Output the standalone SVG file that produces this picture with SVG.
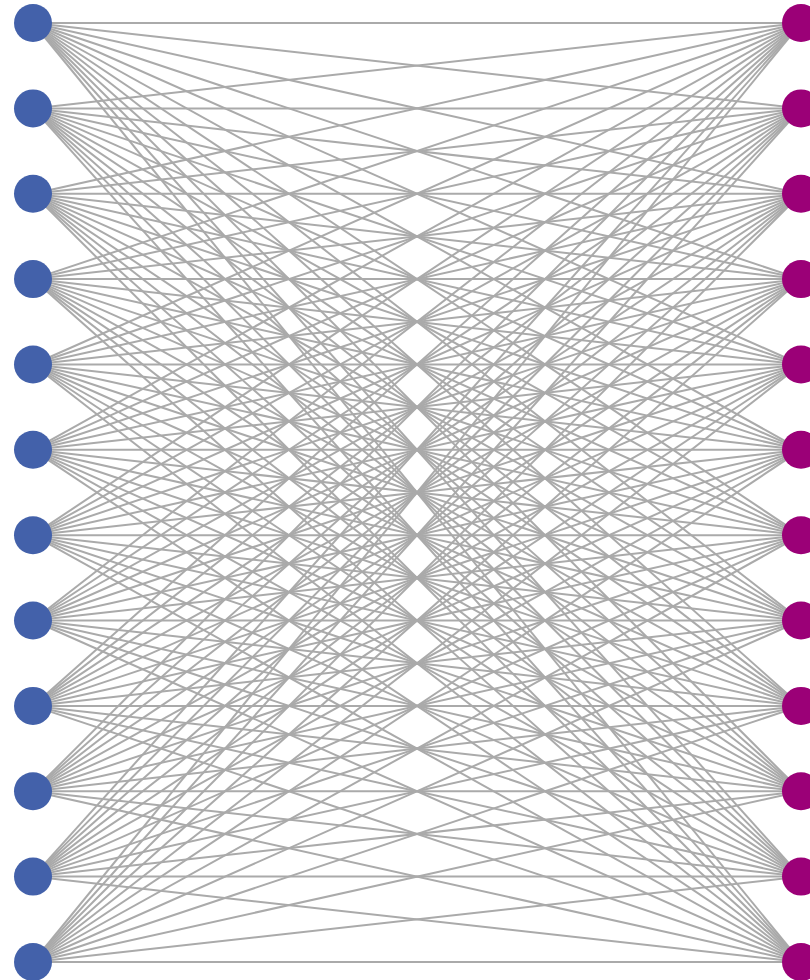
<svg xmlns="http://www.w3.org/2000/svg" width="810" height="980" viewBox="0 0 810 980">
<style>
.e line{stroke:#aaaaaa;stroke-width:2;fill:none}
.l{fill:#4361aa}
.r{fill:#9b0077}
</style>
<rect width="810" height="980" fill="#ffffff"/>
<g id="edges" class="e">
<line x1="33" y1="23" x2="801" y2="23"/><line x1="33" y1="23" x2="801" y2="108.4"/><line x1="33" y1="23" x2="801" y2="193.7"/><line x1="33" y1="23" x2="801" y2="279.1"/><line x1="33" y1="23" x2="801" y2="364.5"/><line x1="33" y1="23" x2="801" y2="449.8"/><line x1="33" y1="23" x2="801" y2="535.2"/><line x1="33" y1="23" x2="801" y2="620.5"/><line x1="33" y1="23" x2="801" y2="705.9"/><line x1="33" y1="23" x2="801" y2="791.3"/><line x1="33" y1="23" x2="801" y2="876.6"/><line x1="33" y1="23" x2="801" y2="962"/>
<line x1="33" y1="108.4" x2="801" y2="23"/><line x1="33" y1="108.4" x2="801" y2="108.4"/><line x1="33" y1="108.4" x2="801" y2="193.7"/><line x1="33" y1="108.4" x2="801" y2="279.1"/><line x1="33" y1="108.4" x2="801" y2="364.5"/><line x1="33" y1="108.4" x2="801" y2="449.8"/><line x1="33" y1="108.4" x2="801" y2="535.2"/><line x1="33" y1="108.4" x2="801" y2="620.5"/><line x1="33" y1="108.4" x2="801" y2="705.9"/><line x1="33" y1="108.4" x2="801" y2="791.3"/><line x1="33" y1="108.4" x2="801" y2="876.6"/><line x1="33" y1="108.4" x2="801" y2="962"/>
<line x1="33" y1="193.7" x2="801" y2="23"/><line x1="33" y1="193.7" x2="801" y2="108.4"/><line x1="33" y1="193.7" x2="801" y2="193.7"/><line x1="33" y1="193.7" x2="801" y2="279.1"/><line x1="33" y1="193.7" x2="801" y2="364.5"/><line x1="33" y1="193.7" x2="801" y2="449.8"/><line x1="33" y1="193.7" x2="801" y2="535.2"/><line x1="33" y1="193.7" x2="801" y2="620.5"/><line x1="33" y1="193.7" x2="801" y2="705.9"/><line x1="33" y1="193.7" x2="801" y2="791.3"/><line x1="33" y1="193.7" x2="801" y2="876.6"/><line x1="33" y1="193.7" x2="801" y2="962"/>
<line x1="33" y1="279.1" x2="801" y2="23"/><line x1="33" y1="279.1" x2="801" y2="108.4"/><line x1="33" y1="279.1" x2="801" y2="193.7"/><line x1="33" y1="279.1" x2="801" y2="279.1"/><line x1="33" y1="279.1" x2="801" y2="364.5"/><line x1="33" y1="279.1" x2="801" y2="449.8"/><line x1="33" y1="279.1" x2="801" y2="535.2"/><line x1="33" y1="279.1" x2="801" y2="620.5"/><line x1="33" y1="279.1" x2="801" y2="705.9"/><line x1="33" y1="279.1" x2="801" y2="791.3"/><line x1="33" y1="279.1" x2="801" y2="876.6"/><line x1="33" y1="279.1" x2="801" y2="962"/>
<line x1="33" y1="364.5" x2="801" y2="23"/><line x1="33" y1="364.5" x2="801" y2="108.4"/><line x1="33" y1="364.5" x2="801" y2="193.7"/><line x1="33" y1="364.5" x2="801" y2="279.1"/><line x1="33" y1="364.5" x2="801" y2="364.5"/><line x1="33" y1="364.5" x2="801" y2="449.8"/><line x1="33" y1="364.5" x2="801" y2="535.2"/><line x1="33" y1="364.5" x2="801" y2="620.5"/><line x1="33" y1="364.5" x2="801" y2="705.9"/><line x1="33" y1="364.5" x2="801" y2="791.3"/><line x1="33" y1="364.5" x2="801" y2="876.6"/><line x1="33" y1="364.5" x2="801" y2="962"/>
<line x1="33" y1="449.8" x2="801" y2="23"/><line x1="33" y1="449.8" x2="801" y2="108.4"/><line x1="33" y1="449.8" x2="801" y2="193.7"/><line x1="33" y1="449.8" x2="801" y2="279.1"/><line x1="33" y1="449.8" x2="801" y2="364.5"/><line x1="33" y1="449.8" x2="801" y2="449.8"/><line x1="33" y1="449.8" x2="801" y2="535.2"/><line x1="33" y1="449.8" x2="801" y2="620.5"/><line x1="33" y1="449.8" x2="801" y2="705.9"/><line x1="33" y1="449.8" x2="801" y2="791.3"/><line x1="33" y1="449.8" x2="801" y2="876.6"/><line x1="33" y1="449.8" x2="801" y2="962"/>
<line x1="33" y1="535.2" x2="801" y2="23"/><line x1="33" y1="535.2" x2="801" y2="108.4"/><line x1="33" y1="535.2" x2="801" y2="193.7"/><line x1="33" y1="535.2" x2="801" y2="279.1"/><line x1="33" y1="535.2" x2="801" y2="364.5"/><line x1="33" y1="535.2" x2="801" y2="449.8"/><line x1="33" y1="535.2" x2="801" y2="535.2"/><line x1="33" y1="535.2" x2="801" y2="620.5"/><line x1="33" y1="535.2" x2="801" y2="705.9"/><line x1="33" y1="535.2" x2="801" y2="791.3"/><line x1="33" y1="535.2" x2="801" y2="876.6"/><line x1="33" y1="535.2" x2="801" y2="962"/>
<line x1="33" y1="620.5" x2="801" y2="23"/><line x1="33" y1="620.5" x2="801" y2="108.4"/><line x1="33" y1="620.5" x2="801" y2="193.7"/><line x1="33" y1="620.5" x2="801" y2="279.1"/><line x1="33" y1="620.5" x2="801" y2="364.5"/><line x1="33" y1="620.5" x2="801" y2="449.8"/><line x1="33" y1="620.5" x2="801" y2="535.2"/><line x1="33" y1="620.5" x2="801" y2="620.5"/><line x1="33" y1="620.5" x2="801" y2="705.9"/><line x1="33" y1="620.5" x2="801" y2="791.3"/><line x1="33" y1="620.5" x2="801" y2="876.6"/><line x1="33" y1="620.5" x2="801" y2="962"/>
<line x1="33" y1="705.9" x2="801" y2="23"/><line x1="33" y1="705.9" x2="801" y2="108.4"/><line x1="33" y1="705.9" x2="801" y2="193.7"/><line x1="33" y1="705.9" x2="801" y2="279.1"/><line x1="33" y1="705.9" x2="801" y2="364.5"/><line x1="33" y1="705.9" x2="801" y2="449.8"/><line x1="33" y1="705.9" x2="801" y2="535.2"/><line x1="33" y1="705.9" x2="801" y2="620.5"/><line x1="33" y1="705.9" x2="801" y2="705.9"/><line x1="33" y1="705.9" x2="801" y2="791.3"/><line x1="33" y1="705.9" x2="801" y2="876.6"/><line x1="33" y1="705.9" x2="801" y2="962"/>
<line x1="33" y1="791.3" x2="801" y2="23"/><line x1="33" y1="791.3" x2="801" y2="108.4"/><line x1="33" y1="791.3" x2="801" y2="193.7"/><line x1="33" y1="791.3" x2="801" y2="279.1"/><line x1="33" y1="791.3" x2="801" y2="364.5"/><line x1="33" y1="791.3" x2="801" y2="449.8"/><line x1="33" y1="791.3" x2="801" y2="535.2"/><line x1="33" y1="791.3" x2="801" y2="620.5"/><line x1="33" y1="791.3" x2="801" y2="705.9"/><line x1="33" y1="791.3" x2="801" y2="791.3"/><line x1="33" y1="791.3" x2="801" y2="876.6"/><line x1="33" y1="791.3" x2="801" y2="962"/>
<line x1="33" y1="876.6" x2="801" y2="23"/><line x1="33" y1="876.6" x2="801" y2="108.4"/><line x1="33" y1="876.6" x2="801" y2="193.7"/><line x1="33" y1="876.6" x2="801" y2="279.1"/><line x1="33" y1="876.6" x2="801" y2="364.5"/><line x1="33" y1="876.6" x2="801" y2="449.8"/><line x1="33" y1="876.6" x2="801" y2="535.2"/><line x1="33" y1="876.6" x2="801" y2="620.5"/><line x1="33" y1="876.6" x2="801" y2="705.9"/><line x1="33" y1="876.6" x2="801" y2="791.3"/><line x1="33" y1="876.6" x2="801" y2="876.6"/><line x1="33" y1="876.6" x2="801" y2="962"/>
<line x1="33" y1="962" x2="801" y2="23"/><line x1="33" y1="962" x2="801" y2="108.4"/><line x1="33" y1="962" x2="801" y2="193.7"/><line x1="33" y1="962" x2="801" y2="279.1"/><line x1="33" y1="962" x2="801" y2="364.5"/><line x1="33" y1="962" x2="801" y2="449.8"/><line x1="33" y1="962" x2="801" y2="535.2"/><line x1="33" y1="962" x2="801" y2="620.5"/><line x1="33" y1="962" x2="801" y2="705.9"/><line x1="33" y1="962" x2="801" y2="791.3"/><line x1="33" y1="962" x2="801" y2="876.6"/><line x1="33" y1="962" x2="801" y2="962"/>
</g>
<g id="L1"><circle class="l" cx="33" cy="23" r="19"/></g>
<g id="L2"><circle class="l" cx="33" cy="108.4" r="19"/></g>
<g id="L3"><circle class="l" cx="33" cy="193.7" r="19"/></g>
<g id="L4"><circle class="l" cx="33" cy="279.1" r="19"/></g>
<g id="L5"><circle class="l" cx="33" cy="364.5" r="19"/></g>
<g id="L6"><circle class="l" cx="33" cy="449.8" r="19"/></g>
<g id="L7"><circle class="l" cx="33" cy="535.2" r="19"/></g>
<g id="L8"><circle class="l" cx="33" cy="620.5" r="19"/></g>
<g id="L9"><circle class="l" cx="33" cy="705.9" r="19"/></g>
<g id="L10"><circle class="l" cx="33" cy="791.3" r="19"/></g>
<g id="L11"><circle class="l" cx="33" cy="876.6" r="19"/></g>
<g id="L12"><circle class="l" cx="33" cy="962" r="19"/></g>
<g id="R1"><circle class="r" cx="801" cy="23" r="19"/></g>
<g id="R2"><circle class="r" cx="801" cy="108.4" r="19"/></g>
<g id="R3"><circle class="r" cx="801" cy="193.7" r="19"/></g>
<g id="R4"><circle class="r" cx="801" cy="279.1" r="19"/></g>
<g id="R5"><circle class="r" cx="801" cy="364.5" r="19"/></g>
<g id="R6"><circle class="r" cx="801" cy="449.8" r="19"/></g>
<g id="R7"><circle class="r" cx="801" cy="535.2" r="19"/></g>
<g id="R8"><circle class="r" cx="801" cy="620.5" r="19"/></g>
<g id="R9"><circle class="r" cx="801" cy="705.9" r="19"/></g>
<g id="R10"><circle class="r" cx="801" cy="791.3" r="19"/></g>
<g id="R11"><circle class="r" cx="801" cy="876.6" r="19"/></g>
<g id="R12"><circle class="r" cx="801" cy="962" r="19"/></g>
</svg>
